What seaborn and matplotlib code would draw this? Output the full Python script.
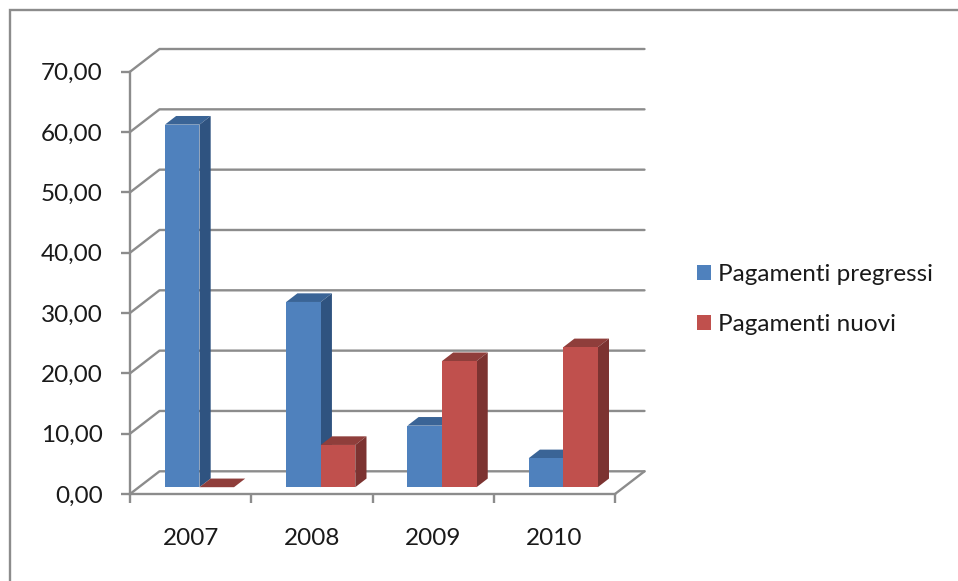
import matplotlib
matplotlib.use("Agg")
import matplotlib.pyplot as plt
import numpy as np
import pandas as pd
import seaborn as sns
from matplotlib.patches import Polygon, Rectangle

years = ["2007", "2008", "2009", "2010"]
series_names = ["Pagamenti pregressi", "Pagamenti nuovi"]
pagamenti_pregressi = [60.1, 30.7, 10.2, 4.8]
pagamenti_nuovi = [0.0, 7.0, 20.9, 23.2]
y_ticks = [0, 10, 20, 30, 40, 50, 60, 70]

front_colors = ["#4F81BD", "#C0504D"]
top_colors = ["#3A6496", "#8F3E3B"]
side_colors = ["#2F5380", "#7C3331"]
line_color = "#8C8C8C"
text_color = "#1A1A1A"
font_size = 17.5

W, H = 958, 581
LEFT, RIGHT, BOTTOM, TOP = 130, 615, 494, 71.7

sns.set_style("white")
plt.rcParams["font.family"] = ["Lato", "DejaVu Sans"]

df = pd.DataFrame({
    "year": years * 2,
    "serie": [series_names[0]] * 4 + [series_names[1]] * 4,
    "value": pagamenti_pregressi + pagamenti_nuovi,
})

fig = plt.figure(figsize=(W / 100, H / 100), dpi=100, facecolor="white")
ax = fig.add_axes([LEFT / W, 1 - BOTTOM / H, (RIGHT - LEFT) / W, (BOTTOM - TOP) / H])
ax.patch.set_visible(False)

sns.barplot(
    data=df, x="year", y="value", hue="serie", hue_order=series_names,
    palette=front_colors, width=0.57, gap=0, saturation=1, linewidth=0, ax=ax,
)
ax.set_xlim(-0.5, 3.5)
ax.set_ylim(0, 70)
ax.set_xlabel("")
ax.set_ylabel("")

# depth of the fake 3d floor, in data units
px_x = (RIGHT - LEFT) / 4
px_y = (BOTTOM - TOP) / 70
depth_x = 29.5 / px_x
depth_y = 22.7 / px_y
bar_start = 0.3
bar_depth = 0.38

# back wall and floor
for v in y_ticks:
    ax.plot([-0.5, -0.5 + depth_x, 3.5 + depth_x], [v, v + depth_y, v + depth_y],
            color=line_color, lw=1.7, clip_on=False, zorder=1)
ax.plot([3.5, 3.5 + depth_x], [0, depth_y], color=line_color, lw=1.7, clip_on=False, zorder=1)

# move bars into the floor and add top and side faces
for s, container in enumerate(ax.containers):
    for bar in container:
        bar.set_x(bar.get_x() + bar_start * depth_x)
        bar.set_y(bar_start * depth_y)
        bar.set_clip_on(False)
        x0 = bar.get_x()
        x1 = x0 + bar.get_width()
        y0 = bar.get_y()
        y1 = y0 + bar.get_height()
        dx = bar_depth * depth_x
        dy = bar_depth * depth_y
        z = 3 + s + x0 * 0.1
        bar.set_zorder(z + 0.02)
        ax.add_patch(Polygon([(x0, y1), (x1, y1), (x1 + dx, y1 + dy), (x0 + dx, y1 + dy)],
                             facecolor=top_colors[s], lw=0, clip_on=False, zorder=z))
        ax.add_patch(Polygon([(x1, y0), (x1 + dx, y0 + dy), (x1 + dx, y1 + dy), (x1, y1)],
                             facecolor=side_colors[s], lw=0, clip_on=False, zorder=z + 0.01))

# axes
for side in ["top", "right"]:
    ax.spines[side].set_visible(False)
for side in ["left", "bottom"]:
    ax.spines[side].set_color(line_color)
    ax.spines[side].set_linewidth(1.7)
    ax.spines[side].set_zorder(2)

ax.set_yticks(y_ticks)
ax.set_yticklabels([f"{v:.2f}".replace(".", ",") for v in y_ticks])
ax.set_xticks(np.arange(5) - 0.5)
ax.set_xticklabels([])
ax.set_xticks(np.arange(4), labels=years, minor=True)
ax.tick_params(axis="y", which="major", left=True, length=6.5, width=1.7, color=line_color,
               labelsize=font_size, pad=13, labelcolor=text_color)
ax.tick_params(axis="x", which="major", bottom=True, length=6.5, width=1.7, color=line_color)
ax.tick_params(axis="x", which="minor", bottom=False, length=0, labelsize=font_size, pad=24.5,
               labelcolor=text_color)

# legend
sns.move_legend(
    ax, "center left", bbox_to_anchor=(696.5 / W, 1 - 299.5 / H), bbox_transform=fig.transFigure,
    frameon=False, title=None, fontsize=font_size, labelcolor=text_color,
    handlelength=0.58, handleheight=0.58,
    handletextpad=0.3, labelspacing=1.22, borderpad=0, borderaxespad=0,
)

# chart frame, cut off by the image on the right and bottom
fig.add_artist(Rectangle((9.5 / W, -0.1), 1.1, 1.1 - 10 / H, transform=fig.transFigure,
                         fill=False, edgecolor=line_color, lw=1.7))

fig.savefig("out.png", dpi=100)
plt.close(fig)
